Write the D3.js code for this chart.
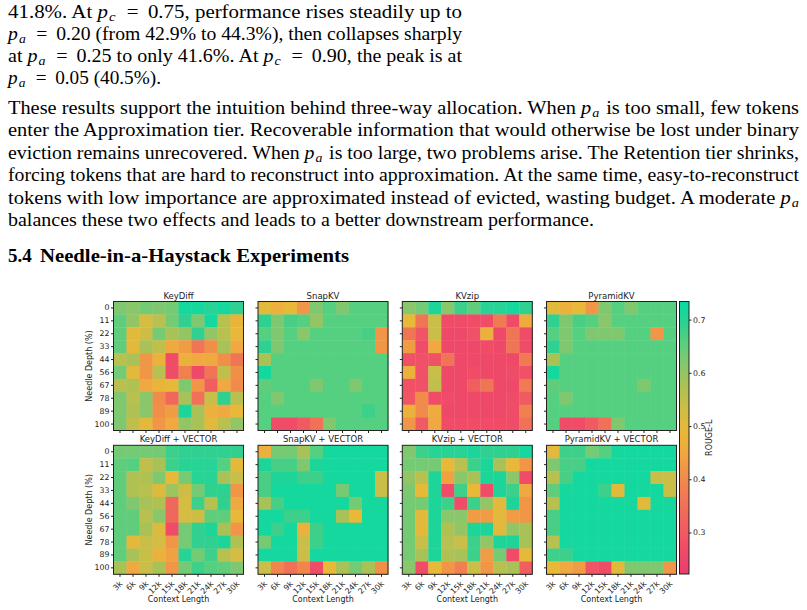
<!DOCTYPE html>
<html>
<head>
<meta charset="utf-8">
<script src="https://cdn.jsdelivr.net/npm/d3@7"></script>
<style>
  body { margin: 0; background: #fff; }
  svg { display: block; }
</style>
</head>
<body>
<script>
const W = 807, H = 610;

const contexts = ["3k", "6k", "9k", "12k", "15k", "18k", "21k", "24k", "27k", "30k"];
const depths = ["0", "11", "22", "33", "44", "56", "67", "78", "89", "100"];
const titles = ["KeyDiff", "SnapKV", "KVzip", "PyramidKV",
                "KeyDiff + VECTOR", "SnapKV + VECTOR", "KVzip + VECTOR", "PyramidKV + VECTOR"];
const cbTicks = [0.3, 0.4, 0.5, 0.6, 0.7];

// ROUGE-L per (depth row, context column)
const keydiff = [
  [0.62,0.61,0.63,0.62,0.63,0.72,0.72,0.70,0.72,0.69],
  [0.65,0.60,0.52,0.56,0.63,0.69,0.62,0.72,0.56,0.48],
  [0.65,0.50,0.53,0.63,0.58,0.60,0.69,0.60,0.56,0.49],
  [0.65,0.50,0.58,0.55,0.45,0.43,0.36,0.41,0.58,0.45],
  [0.56,0.58,0.42,0.47,0.27,0.47,0.45,0.45,0.41,0.36],
  [0.63,0.50,0.42,0.56,0.27,0.38,0.26,0.36,0.55,0.41],
  [0.56,0.57,0.45,0.48,0.49,0.62,0.42,0.31,0.45,0.40],
  [0.62,0.56,0.61,0.40,0.33,0.58,0.35,0.54,0.69,0.56],
  [0.62,0.57,0.61,0.41,0.43,0.71,0.58,0.47,0.45,0.49],
  [0.62,0.55,0.50,0.42,0.45,0.60,0.58,0.50,0.56,0.60]
];
const snapkv = [
  [0.50,0.47,0.49,0.42,0.62,0.66,0.62,0.66,0.66,0.66],
  [0.69,0.62,0.67,0.66,0.60,0.66,0.66,0.66,0.66,0.66],
  [0.66,0.62,0.66,0.61,0.66,0.66,0.66,0.66,0.67,0.42],
  [0.69,0.62,0.66,0.66,0.66,0.66,0.66,0.66,0.66,0.42],
  [0.58,0.66,0.66,0.66,0.66,0.66,0.66,0.66,0.66,0.66],
  [0.72,0.66,0.66,0.66,0.66,0.66,0.66,0.66,0.66,0.66],
  [0.65,0.66,0.66,0.66,0.62,0.66,0.66,0.62,0.66,0.66],
  [0.66,0.62,0.66,0.66,0.66,0.66,0.66,0.66,0.66,0.66],
  [0.66,0.66,0.66,0.66,0.66,0.66,0.66,0.66,0.68,0.66],
  [0.66,0.27,0.27,0.30,0.35,0.62,0.66,0.66,0.66,0.66]
];
const kvzip = [
  [0.61,0.63,0.71,0.61,0.68,0.65,0.70,0.70,0.72,0.69],
  [0.49,0.36,0.54,0.27,0.27,0.27,0.27,0.37,0.27,0.46],
  [0.36,0.29,0.54,0.26,0.26,0.28,0.47,0.26,0.36,0.27],
  [0.43,0.27,0.45,0.26,0.26,0.26,0.27,0.26,0.36,0.27],
  [0.28,0.28,0.28,0.36,0.26,0.26,0.26,0.26,0.26,0.37],
  [0.47,0.28,0.54,0.26,0.26,0.27,0.26,0.26,0.27,0.28],
  [0.28,0.28,0.55,0.26,0.26,0.31,0.36,0.26,0.26,0.37],
  [0.29,0.40,0.27,0.27,0.26,0.26,0.26,0.26,0.27,0.30],
  [0.47,0.40,0.46,0.26,0.26,0.26,0.26,0.26,0.27,0.38],
  [0.42,0.30,0.45,0.27,0.27,0.27,0.27,0.27,0.27,0.35]
];
const pyramidkv = [
  [0.50,0.47,0.49,0.42,0.62,0.66,0.62,0.66,0.66,0.66],
  [0.69,0.62,0.67,0.66,0.61,0.66,0.66,0.66,0.66,0.66],
  [0.66,0.62,0.66,0.62,0.62,0.62,0.66,0.66,0.42,0.66],
  [0.69,0.62,0.66,0.66,0.66,0.66,0.66,0.66,0.66,0.66],
  [0.58,0.66,0.66,0.66,0.66,0.66,0.66,0.66,0.66,0.66],
  [0.72,0.66,0.66,0.66,0.66,0.66,0.66,0.66,0.66,0.66],
  [0.65,0.66,0.66,0.66,0.66,0.66,0.66,0.62,0.66,0.66],
  [0.66,0.62,0.66,0.66,0.66,0.66,0.66,0.66,0.66,0.66],
  [0.66,0.66,0.66,0.66,0.66,0.66,0.66,0.66,0.66,0.66],
  [0.66,0.27,0.27,0.30,0.35,0.62,0.66,0.66,0.66,0.66]
];
const keydiffVec = [
  [0.63,0.63,0.63,0.63,0.68,0.69,0.69,0.69,0.69,0.69],
  [0.65,0.66,0.55,0.58,0.68,0.70,0.70,0.70,0.66,0.50],
  [0.65,0.57,0.57,0.62,0.49,0.63,0.70,0.70,0.58,0.54],
  [0.65,0.57,0.56,0.51,0.59,0.53,0.63,0.69,0.69,0.42],
  [0.65,0.62,0.58,0.57,0.33,0.52,0.68,0.56,0.69,0.45],
  [0.65,0.65,0.56,0.61,0.33,0.52,0.53,0.65,0.65,0.49],
  [0.65,0.65,0.58,0.51,0.27,0.63,0.69,0.71,0.58,0.42],
  [0.65,0.50,0.54,0.52,0.42,0.63,0.69,0.69,0.71,0.57],
  [0.65,0.58,0.54,0.47,0.44,0.70,0.63,0.68,0.56,0.52],
  [0.58,0.45,0.54,0.58,0.42,0.63,0.68,0.66,0.65,0.62]
];
const snapkvVec = [
  [0.47,0.63,0.63,0.58,0.66,0.72,0.72,0.72,0.72,0.72],
  [0.71,0.67,0.67,0.62,0.71,0.72,0.72,0.72,0.72,0.72],
  [0.67,0.71,0.71,0.68,0.68,0.72,0.72,0.72,0.72,0.54],
  [0.67,0.72,0.72,0.72,0.72,0.72,0.63,0.72,0.72,0.54],
  [0.58,0.67,0.72,0.72,0.72,0.72,0.72,0.63,0.72,0.72],
  [0.72,0.72,0.68,0.68,0.72,0.72,0.58,0.49,0.72,0.72],
  [0.72,0.68,0.72,0.47,0.68,0.72,0.72,0.72,0.72,0.72],
  [0.63,0.72,0.72,0.54,0.68,0.72,0.72,0.72,0.72,0.72],
  [0.72,0.72,0.72,0.54,0.72,0.72,0.72,0.72,0.72,0.72],
  [0.54,0.39,0.35,0.39,0.27,0.49,0.58,0.63,0.58,0.41]
];
const kvzipVec = [
  [0.62,0.68,0.70,0.70,0.70,0.71,0.69,0.69,0.69,0.72],
  [0.63,0.63,0.63,0.49,0.56,0.68,0.71,0.58,0.49,0.42],
  [0.60,0.56,0.71,0.44,0.61,0.58,0.71,0.71,0.61,0.27],
  [0.62,0.49,0.71,0.27,0.68,0.49,0.27,0.71,0.68,0.45],
  [0.63,0.63,0.71,0.68,0.27,0.68,0.60,0.50,0.71,0.42],
  [0.63,0.50,0.71,0.61,0.61,0.43,0.43,0.50,0.43,0.42],
  [0.63,0.50,0.71,0.57,0.60,0.71,0.71,0.50,0.60,0.58],
  [0.63,0.54,0.71,0.56,0.54,0.68,0.60,0.71,0.71,0.58],
  [0.63,0.58,0.71,0.57,0.58,0.68,0.43,0.63,0.27,0.49],
  [0.61,0.27,0.49,0.42,0.38,0.54,0.42,0.56,0.58,0.31]
];
const pyramidkvVec = [
  [0.50,0.68,0.68,0.63,0.66,0.72,0.72,0.72,0.72,0.72],
  [0.62,0.67,0.67,0.72,0.72,0.72,0.72,0.72,0.72,0.72],
  [0.56,0.67,0.72,0.72,0.72,0.72,0.72,0.72,0.54,0.54],
  [0.65,0.72,0.72,0.72,0.68,0.50,0.72,0.72,0.72,0.54],
  [0.56,0.72,0.72,0.72,0.72,0.72,0.72,0.50,0.72,0.72],
  [0.67,0.72,0.72,0.72,0.72,0.72,0.72,0.72,0.72,0.72],
  [0.67,0.72,0.72,0.72,0.72,0.72,0.72,0.72,0.72,0.72],
  [0.56,0.72,0.72,0.72,0.72,0.72,0.72,0.72,0.72,0.72],
  [0.68,0.68,0.72,0.72,0.72,0.72,0.72,0.72,0.72,0.72],
  [0.49,0.45,0.43,0.29,0.27,0.50,0.62,0.62,0.62,0.42]
];
const panels = [keydiff, snapkv, kvzip, pyramidkv, keydiffVec, snapkvVec, kvzipVec, pyramidkvVec];

const para1 = [
  "41.8%. At p_c = 0.75, performance rises steadily up to",
  "p_a = 0.20 (from 42.9% to 44.3%), then collapses sharply",
  "at p_a = 0.25 to only 41.6%. At p_c = 0.90, the peak is at",
  "p_a = 0.05 (40.5%)."
];
const para2 = [
  "These results support the intuition behind three-way allocation. When p_a is too small, few tokens",
  "enter the Approximation tier. Recoverable information that would otherwise be lost under binary",
  "eviction remains unrecovered. When p_a is too large, two problems arise. The Retention tier shrinks,",
  "forcing tokens that are hard to reconstruct into approximation. At the same time, easy-to-reconstruct",
  "tokens with low importance are approximated instead of evicted, wasting budget. A moderate p_a",
  "balances these two effects and leads to a better downstream performance."
];

const vmin = 0.222, vmax = 0.734;
const color = d3.scaleLinear()
  .domain([vmin, 0.27, 0.35, 0.41, 0.45, 0.49, 0.54, 0.58, 0.62, 0.66, 0.69, vmax])
  .range(["#e83e6e", "#f04c68", "#f07058", "#f09048", "#f0a840", "#e8b838",
          "#c8be48", "#a8c258", "#80c870", "#55cf80", "#30d090", "#08dca4"])
  .clamp(true);

const svg = d3.select("body").append("svg")
  .attr("width", W)
  .attr("height", H);

// ---- body text ----
const serif = "'Liberation Serif', 'Times New Roman', serif";
const subShift = 3;
function textLine(str, x, y, width, size) {
  const t = svg.append("text")
    .attr("x", x).attr("y", y)
    .attr("font-family", serif)
    .attr("font-size", size)
    .style("white-space", "pre");
  if (width) t.attr("textLength", width).attr("lengthAdjust", "spacingAndGlyphs");
  let shift = 0;
  str.replace(/ = /g, "\u2009 = \u2009").split(/(p_[ac])/).forEach(p => {
    if (!p) return;
    const m = p.match(/^p_([ac])$/);
    if (m) {
      t.append("tspan").attr("dy", -shift).attr("font-style", "italic").text("p");
      t.append("tspan").attr("dx", 1).attr("dy", subShift).attr("font-style", "italic")
        .attr("font-size", 12.5).text(m[1]);
      shift = subShift;
    } else {
      t.append("tspan").attr("dx", shift ? 1.5 : 0).attr("dy", -shift).text(p);
      shift = 0;
    }
  });
}
const p1Base = [18, 40, 62, 84];
const p1Len = [454, 454, 454, 153];
para1.forEach((s, i) => textLine(s, 8, p1Base[i], p1Len[i], 18));
const p2Base = [114, 136, 159, 181, 204, 226];
const p2Len = [791, 791, 791, 791, 791, 586];
para2.forEach((s, i) => textLine(s, 8, p2Base[i], p2Len[i], 18));

svg.append("text").attr("x", 8).attr("y", 262)
  .attr("font-family", serif).attr("font-size", 19).attr("font-weight", "bold")
  .text("5.4");
svg.append("text").attr("x", 40).attr("y", 262)
  .attr("font-family", serif).attr("font-size", 19).attr("font-weight", "bold")
  .attr("textLength", 309).attr("lengthAdjust", "spacingAndGlyphs")
  .text("Needle-in-a-Haystack Experiments");

// ---- heatmaps ----
const sans = "'DejaVu Sans', sans-serif";
const lefts = [113.5, 258, 402.3, 546.5];
const tops = [301.5, 445.3];
const pw = 130, ph = 129;

panels.forEach((data, k) => {
  const c = k % 4, r = Math.floor(k / 4);
  const x = d3.scaleBand().domain(contexts).range([lefts[c], lefts[c] + pw]);
  const y = d3.scaleBand().domain(depths).range([tops[r], tops[r] + ph]);
  const g = svg.append("g");

  const cells = data.flatMap((row, i) => row.map((v, j) => ({ i, j, v })));
  g.selectAll("rect.cell")
    .data(cells)
    .enter()
    .append("rect")
    .attr("class", "cell")
    .attr("x", d => x(contexts[d.j]))
    .attr("y", d => y(depths[d.i]))
    .attr("width", x.bandwidth() + 0.4)
    .attr("height", y.bandwidth() + 0.4)
    .attr("fill", d => color(d.v));

  g.append("rect")
    .attr("x", lefts[c]).attr("y", tops[r])
    .attr("width", pw).attr("height", ph)
    .attr("fill", "none").attr("stroke", "#222").attr("stroke-width", 1);

  const yAxis = d3.axisLeft(y).tickSize(2.5).tickPadding(1.5);
  if (c > 0) yAxis.tickFormat("");
  const ya = g.append("g").attr("transform", "translate(" + lefts[c] + ",0)").call(yAxis);

  const xAxis = d3.axisBottom(x).tickSize(2.5);
  if (r === 0) xAxis.tickFormat("");
  const xa = g.append("g").attr("transform", "translate(0," + (tops[r] + ph) + ")").call(xAxis);

  [ya, xa].forEach(a => {
    a.select(".domain").remove();
    a.selectAll("line").attr("stroke", "#222");
    a.selectAll("text").attr("font-family", sans).attr("font-size", 7.8).attr("fill", "#222");
  });
  if (r === 1) {
    xa.selectAll("text")
      .attr("y", 0).attr("dy", "0.35em")
      .attr("text-anchor", "end")
      .attr("transform", "translate(1,8) rotate(-45)");
    g.append("text")
      .attr("x", lefts[c] + pw / 2).attr("y", 602)
      .attr("text-anchor", "middle")
      .attr("font-family", sans).attr("font-size", 8).attr("fill", "#222")
      .text("Context Length");
  }
  if (c === 0) {
    g.append("text")
      .attr("transform", "translate(92," + (tops[r] + ph / 2) + ") rotate(-90)")
      .attr("text-anchor", "middle")
      .attr("font-family", sans).attr("font-size", 8).attr("fill", "#222")
      .text("Needle Depth (%)");
  }
  g.append("text")
    .attr("x", lefts[c] + pw / 2).attr("y", tops[r] - 3)
    .attr("text-anchor", "middle")
    .attr("font-family", sans).attr("font-size", 8.5).attr("fill", "#222")
    .text(titles[k]);
});

// ---- colorbar ----
const cbX = 679.5, cbTop = 301.5, cbBot = 574, cbW = 9.5;
const cbScale = d3.scaleLinear().domain([vmin, vmax]).range([cbBot, cbTop]);
const grad = svg.append("defs").append("linearGradient")
  .attr("id", "cbgrad").attr("x1", 0).attr("y1", 1).attr("x2", 0).attr("y2", 0);
d3.range(0, 1.0001, 0.02).forEach(t => {
  grad.append("stop").attr("offset", t).attr("stop-color", color(vmin + t * (vmax - vmin)));
});
svg.append("rect")
  .attr("x", cbX).attr("y", cbTop).attr("width", cbW).attr("height", cbBot - cbTop)
  .attr("fill", "url(#cbgrad)").attr("stroke", "#222").attr("stroke-width", 1);
const cba = svg.append("g")
  .attr("transform", "translate(" + (cbX + cbW) + ",0)")
  .call(d3.axisRight(cbScale).tickValues(cbTicks).tickFormat(d3.format(".1f")).tickSize(2.5).tickPadding(1.5));
cba.select(".domain").remove();
cba.selectAll("line").attr("stroke", "#222");
cba.selectAll("text").attr("font-family", sans).attr("font-size", 7.8).attr("fill", "#222");
svg.append("text")
  .attr("transform", "translate(712," + ((cbTop + cbBot) / 2) + ") rotate(-90)")
  .attr("text-anchor", "middle")
  .attr("font-family", sans).attr("font-size", 8).attr("fill", "#222")
  .text("ROUGE-L");
</script>
</body>
</html>
